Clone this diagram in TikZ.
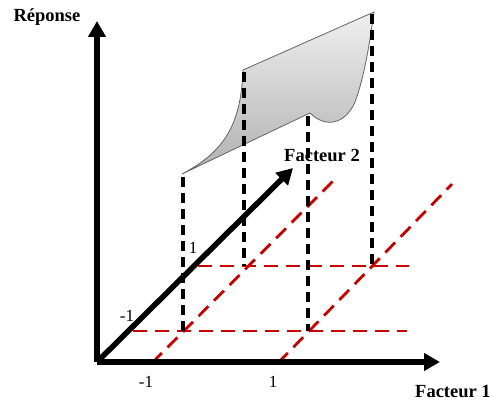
\documentclass[tikz,border=0pt]{standalone}
\usepackage{fontspec}
\setmainfont{Liberation Serif}
\usetikzlibrary{arrows.meta}
\definecolor{reddash}{RGB}{200,0,0}
\definecolor{edgegray}{RGB}{100,100,100}
\tikzset{
  axis/.style={line width=5.5pt,-{Triangle[length=16pt,width=17pt]}},
  blackdash/.style={line width=3.5pt,dash pattern=on 10pt off 6pt},
  reddashed/.style={reddash,line width=2.8pt,dash pattern=on 14pt off 8pt},
  biglabel/.style={font=\bfseries\fontsize{18.5}{20}\selectfont,inner sep=0pt},
  numlabel/.style={font=\fontsize{17}{19}\selectfont,inner sep=0pt},
}
\begin{document}
\begin{tikzpicture}[x=1pt,y=-1pt]
\useasboundingbox (0,0) rectangle (493,401);
% coordinates
\coordinate (O) at (97,362);
\coordinate (Ytip) at (97,21);
\coordinate (Xtip) at (440,362);
\coordinate (Ztip) at (293,168);
\coordinate (sA) at (182,174);
\coordinate (sB) at (243,70);
\coordinate (sC) at (374,12);
\coordinate (sD) at (310,113);
% surface
\shade[top color=gray!12,bottom color=gray!62,draw=edgegray,line width=0.8pt]
  (sA) -- (sD) .. controls (325,128) and (345,125) .. (355,102)
  .. controls (365,75) and (370,40) .. (sC) -- (sB)
  .. controls (241,120) and (228,150) .. (sA) -- cycle;
% labels
\node[biglabel] (rep) at (47,17) {Réponse};
\node[biglabel] (f2) at (322,155) {Facteur 2};
\node[biglabel,anchor=west] (f1) at (415,392) {Facteur 1};
\node[numlabel] (zm) at (127,316) {-1};
\node[numlabel] (zp) at (193,248) {1};
\node[numlabel] (xm) at (146,382) {-1};
\node[numlabel] (xp) at (273,382) {1};
% red grid
\coordinate (h1a) at (133,331); \coordinate (h1b) at (407,331);
\coordinate (h2a) at (198,266); \coordinate (h2b) at (409,266);
\coordinate (d1a) at (152,363); \coordinate (d1b) at (333,181);
\coordinate (d2a) at (278,363); \coordinate (d2b) at (452,184);
\draw[reddashed] (h1a) -- (h1b);
\draw[reddashed] (h2a) -- (h2b);
\draw[reddashed] (d1a) -- (d1b);
\draw[reddashed] (d2a) -- (d2b);
% black dashed verticals
\coordinate (v1a) at (183,177); \coordinate (v1b) at (183,331);
\coordinate (v2a) at (244,72);  \coordinate (v2b) at (244,266);
\coordinate (v3a) at (308,116); \coordinate (v3b) at (308,331);
\coordinate (v4a) at (372,14);  \coordinate (v4b) at (372,266);
\draw[blackdash] (v1a) -- (v1b);
\draw[blackdash] (v2a) -- (v2b);
\draw[blackdash] (v3a) -- (v3b);
\draw[blackdash] (v4a) -- (v4b);
% axes
\draw[axis] (O) -- (Ytip);
\draw[axis] (O) -- (Xtip);
\draw[axis] (O) -- (Ztip);
\end{tikzpicture}
\end{document}
